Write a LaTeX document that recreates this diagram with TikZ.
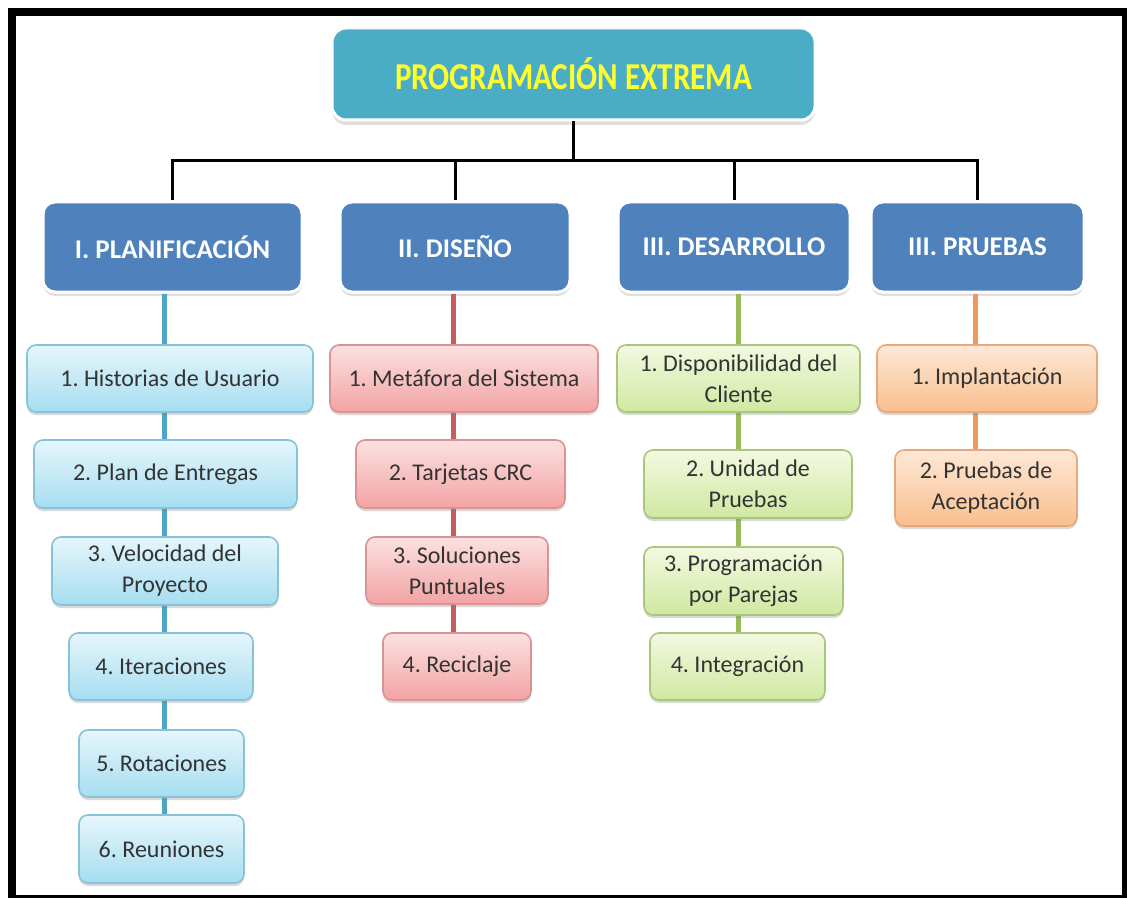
\documentclass[tikz,border=0pt]{standalone}
\usepackage{fontspec}
\setmainfont{Carlito}
\newfontfamily\titlefont{Carlito}[FakeStretch=0.82]
\usetikzlibrary{shadows}
\frenchspacing

\definecolor{topfill}{HTML}{4BACC6}
\definecolor{phasefill}{HTML}{4F81BD}
\definecolor{titleyellow}{HTML}{FFFF2E}
\definecolor{itemtext}{HTML}{333333}
\definecolor{bluetop}{HTML}{E6F6FB}
\definecolor{bluebot}{HTML}{A6DDF1}
\definecolor{blueedge}{HTML}{86C3D8}
\definecolor{blueline}{HTML}{4FA6C2}
\definecolor{redtop}{HTML}{FCE1E1}
\definecolor{redbot}{HTML}{F2A3A3}
\definecolor{rededge}{HTML}{D99394}
\definecolor{redline}{HTML}{C45E60}
\definecolor{greentop}{HTML}{F3F9E1}
\definecolor{greenbot}{HTML}{D0E8A1}
\definecolor{greenedge}{HTML}{A9C77C}
\definecolor{greenline}{HTML}{9BBB59}
\definecolor{orangetop}{HTML}{FDE8D6}
\definecolor{orangebot}{HTML}{F9BF8E}
\definecolor{orangeedge}{HTML}{E6A87C}
\definecolor{orangeline}{HTML}{F1975A}

\begin{document}
\begin{tikzpicture}[x=0.5pt,y=-0.5pt,
  sz/.style 2 args={minimum width=#1*0.5pt, minimum height=#2*0.5pt, inner sep=0pt},
  rootbox/.style={rounded corners=7pt, fill=topfill, draw=white, line width=1.5pt,
    drop shadow={shadow xshift=0pt, shadow yshift=-2.5pt, opacity=0.25},
    font=\titlefont\fontsize{19}{22}\selectfont\bfseries, text=titleyellow},
  phasebox/.style={rounded corners=6pt, fill=phasefill, draw=white, line width=1.5pt,
    drop shadow={shadow xshift=0pt, shadow yshift=-2pt, opacity=0.25},
    font=\fontsize{13.5}{16}\selectfont\bfseries, text=white},
  item/.style={rounded corners=4.5pt, line width=0.8pt, align=center,
    drop shadow={shadow xshift=0pt, shadow yshift=-1.5pt, opacity=0.3},
    font=\fontsize{12}{15.5}\selectfont, text=itemtext},
  blueitem/.style={item, draw=blueedge, top color=bluetop, bottom color=bluebot},
  reditem/.style={item, draw=rededge, top color=redtop, bottom color=redbot},
  greenitem/.style={item, draw=greenedge, top color=greentop, bottom color=greenbot},
  orangeitem/.style={item, draw=orangeedge, top color=orangetop, bottom color=orangebot},
  tree/.style={draw=black, line width=1.5pt},
  stem/.style={line width=2.5pt}
]
% page and frame
\useasboundingbox (0,0) rectangle (1127,898);
\fill[white] (0,0) rectangle (1127,898);
\fill[black] (8,8) rectangle (1127,16);
\fill[black] (8,8) rectangle (16,898);
\fill[black] (1122,8) rectangle (1127,898);
\fill[black] (8,895) rectangle (1127,897.5);

% column axes for the coloured stems
\coordinate (cA) at (164,0);
\coordinate (cB) at (453,0);
\coordinate (cC) at (738,0);
\coordinate (cD) at (975,0);
\coordinate (bus) at (573.5,161);

% root
\node[rootbox, sz={483}{92}] (root) at (573.5,74) {PROGRAMACIÓN EXTREMA};

% phases
\node[phasebox, sz={259}{90}] (plan) at (172.5,247) {I. PLANIFICACIÓN};
\node[phasebox, sz={230}{90}] (dis)  at (455,247)   {II. DISEÑO};
\node[phasebox, sz={232}{90}] (des)  at (734,247)   {III. DESARROLLO};
\node[phasebox, sz={213}{90}] (pru)  at (977.5,247) {III. PRUEBAS};

% tree connectors
\draw[tree] (root.south) -- (bus);
\draw[tree] (plan.north) |- (bus);
\draw[tree] (dis.north) |- (bus);
\draw[tree] (des.north) |- (bus);
\draw[tree] (pru.north) |- (bus);

% coloured stems, drawn first so the items cover them
\coordinate (a6) at (164,849);
\coordinate (b4) at (453,666);
\coordinate (c4) at (738,666);
\coordinate (d2) at (975,488);
\draw[stem, draw=blueline]   (plan.south -| cA) -- (a6);
\draw[stem, draw=redline]    (dis.south -| cB)  -- (b4);
\draw[stem, draw=greenline]  (des.south -| cC)  -- (c4);
\draw[stem, draw=orangeline] (pru.south -| cD)  -- (d2);

% planning items
\node[blueitem, sz={286}{67}] (a1) at (170,378.5) {1. Historias de Usuario};
\node[blueitem, sz={263}{68}] (a2) at (165.5,474) {2. Plan de Entregas};
\node[blueitem, sz={226}{68}] (a3) at (165,571) {3. Velocidad del\\Proyecto};
\node[blueitem, sz={184}{67}] (a4) at (161,666.5) {4. Iteraciones};
\node[blueitem, sz={165}{67}] (a5) at (161.5,763.5) {5. Rotaciones};
\node[blueitem, sz={165}{68}] (a6n) at (161.5,849) {6. Reuniones};

% design items
\node[reditem, sz={268}{67}] (b1) at (464,378.5) {1. Metáfora del Sistema};
\node[reditem, sz={209}{68}] (b2) at (460.5,474) {2. Tarjetas CRC};
\node[reditem, sz={182}{67}] (b3) at (457,570.5) {3. Soluciones\\Puntuales};
\node[reditem, sz={148}{67}] (b4n) at (457,666.5) {4. Reciclaje};

% development items
\node[greenitem, sz={243}{67}] (c1) at (738.5,378.5) {1. Disponibilidad del\\Cliente};
\node[greenitem, sz={208}{68}] (c2) at (748,484) {2. Unidad de\\Pruebas};
\node[greenitem, sz={199}{68}] (c3) at (743.5,581) {3. Programación\\por Parejas};
\node[greenitem, sz={175}{67}] (c4n) at (737.5,666.5) {4. Integración};

% testing items
\node[orangeitem, sz={220}{67}] (d1) at (987,378.5) {1. Implantación};
\node[orangeitem, sz={182}{76}] (d2n) at (986,488) {2. Pruebas de\\Aceptación};
\end{tikzpicture}
\end{document}
